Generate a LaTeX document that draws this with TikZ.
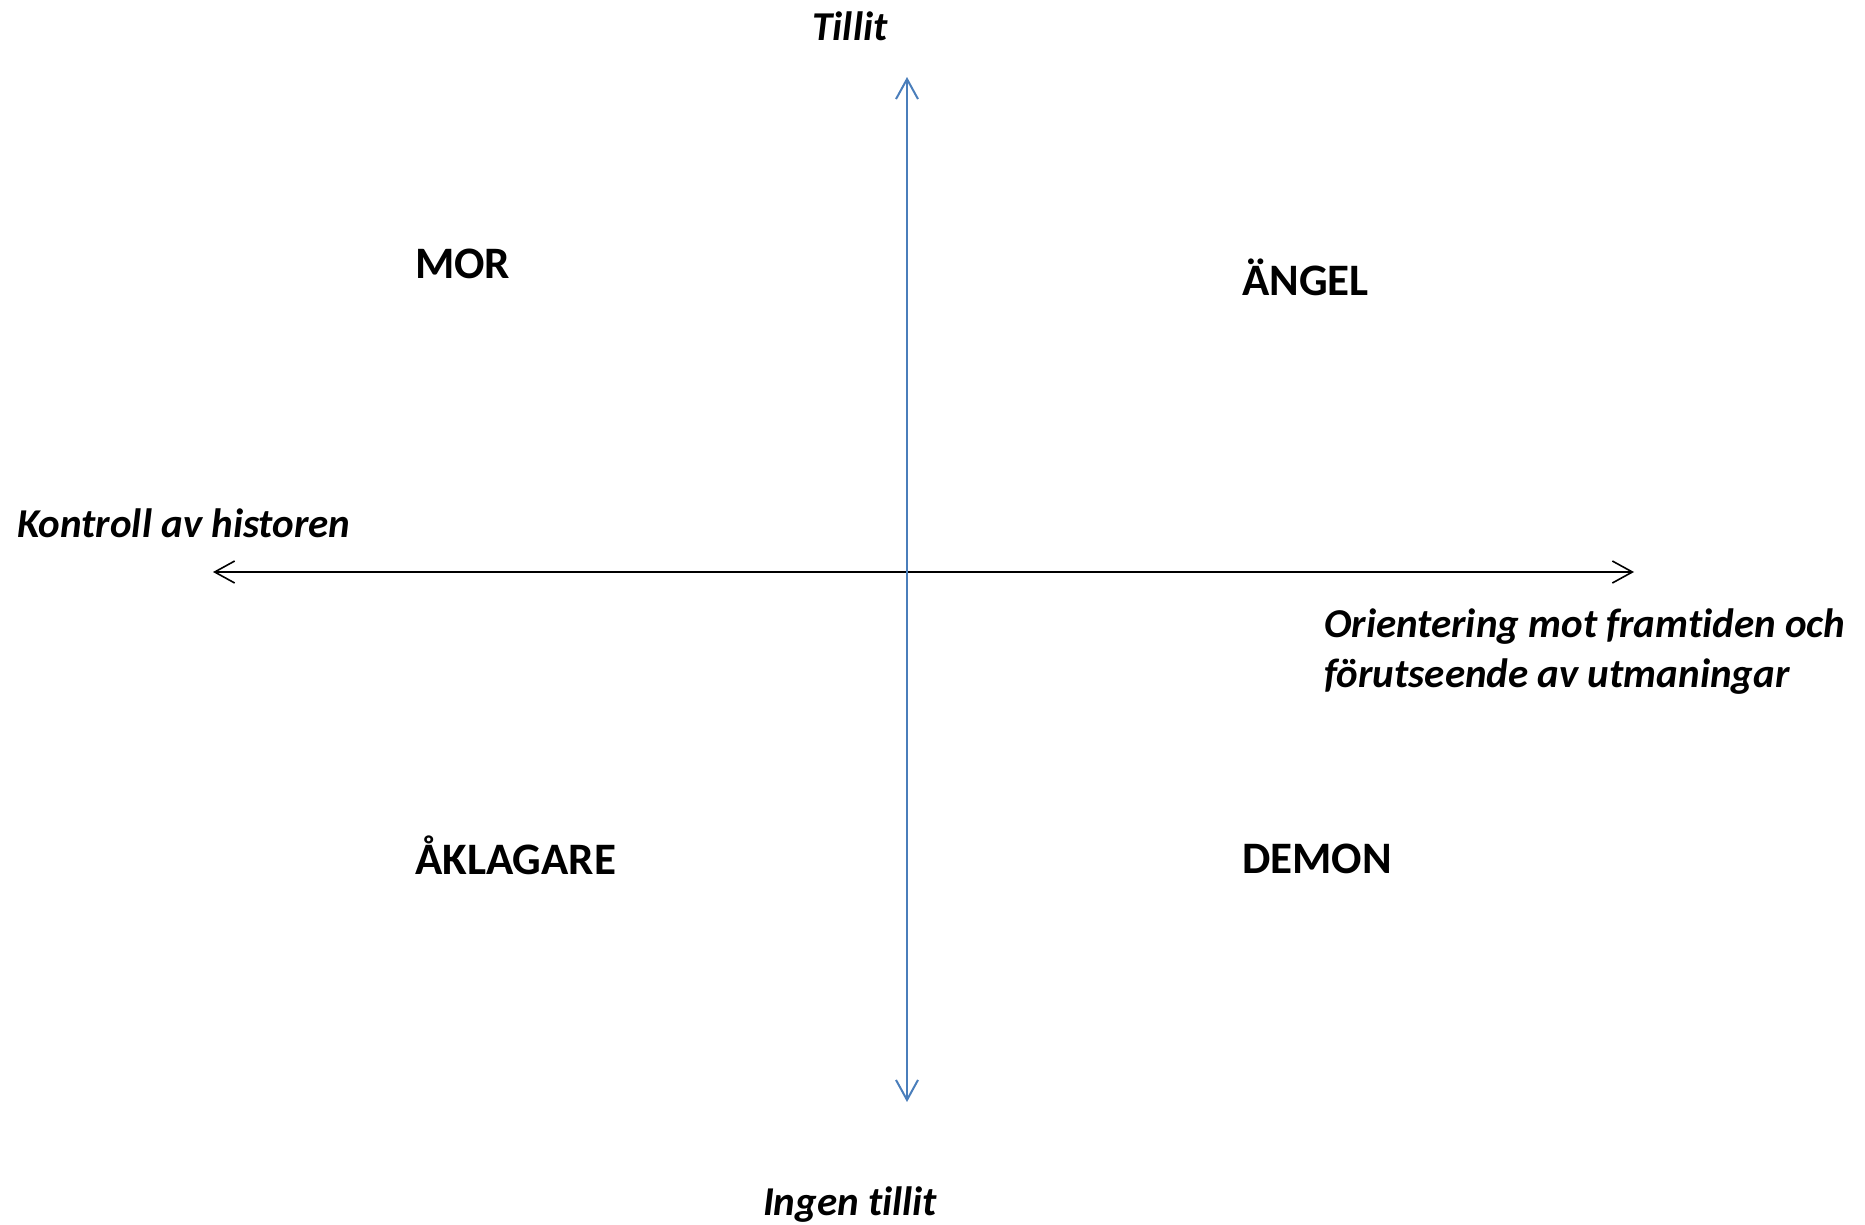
\documentclass[tikz,border=0pt]{standalone}
\usepackage{fontspec}
\setmainfont{Carlito}[Ligatures=NoCommon]
\usetikzlibrary{arrows.meta}
\definecolor{axisblue}{HTML}{4A7EBB}

\begin{document}
\begin{tikzpicture}[x=1pt,y=-1pt,
		axlabel/.style={font=\bfseries\itshape\fontsize{41}{50}\selectfont,inner sep=0pt},
		role/.style={font=\bfseries\fontsize{45}{54}\selectfont,inner sep=0pt,anchor=west},
		axisline/.style={line width=1.6pt,{Straight Barb[length=20pt,width=22pt]}-{Straight Barb[length=20pt,width=22pt]}}]
		\useasboundingbox (0,0) rectangle (1865,1224);
		% axes
		\coordinate (top) at (907,77);
		\coordinate (bottom) at (907,1102);
		\coordinate (left) at (213,572);
		\coordinate (right) at (1634,572);
		\draw[axisline] (left) -- (right);
		\draw[axisline,axisblue,line width=2pt] (top) -- (bottom);
		% axis texts
		\node[axlabel] (tillit) at (850,26) {Tillit};
		\node[axlabel] (ingen) at (850,1205) {Ingen tillit};
		\node[axlabel,anchor=west] (kontroll) at (17,523) {Kontroll av historen};
		\node[axlabel,anchor=west,align=left] (orient) at (1324,652) {Orientering mot framtiden och\\förutseende av utmaningar};
		% quadrants
		\node[role] (mor) at (415,264) {MOR};
		\node[role] (angel) at (1242,277) {ÄNGEL};
		\node[role] (aklagare) at (415,855) {ÅKLAGARE};
		\node[role] (demon) at (1242,859) {DEMON};
\end{tikzpicture}
\end{document}
